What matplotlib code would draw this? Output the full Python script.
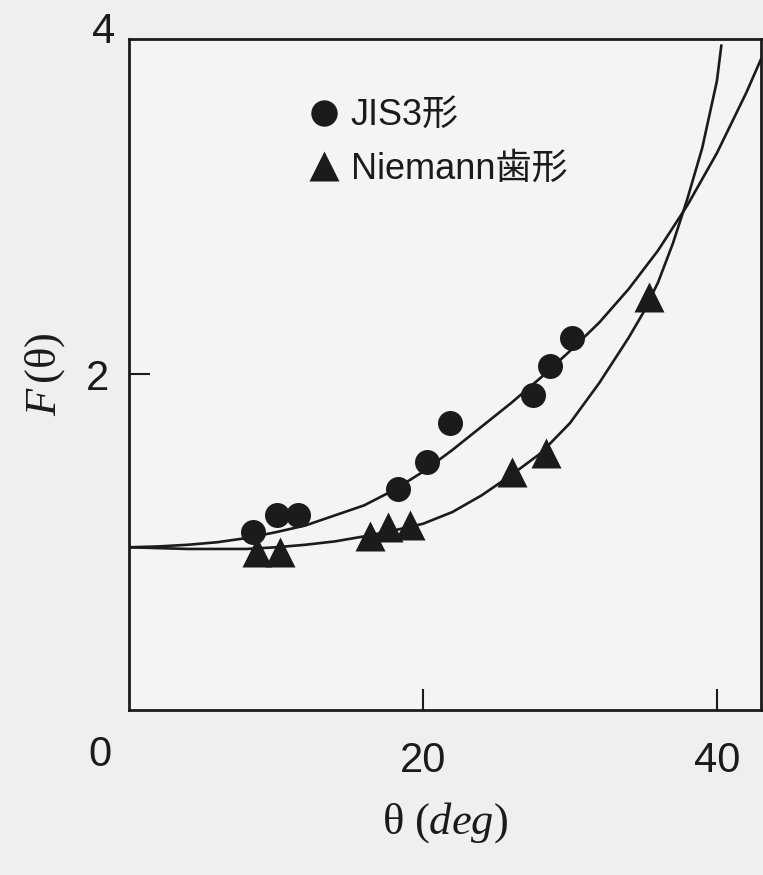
import matplotlib.pyplot as plt
import numpy as np

plt.rcParams['font.family'] = ['Liberation Sans', 'Noto Sans CJK JP', 'DejaVu Sans']
plt.rcParams['mathtext.fontset'] = 'custom'
plt.rcParams['mathtext.rm'] = 'Liberation Serif'
plt.rcParams['mathtext.it'] = 'Liberation Serif:italic'

# measured points
jis_theta = [8.44, 10.07, 11.5, 18.3, 20.27, 21.84, 27.48, 28.64, 30.14]
jis_F = [1.06, 1.16, 1.16, 1.32, 1.48, 1.71, 1.88, 2.05, 2.22]
nie_theta = [8.7, 10.3, 16.4, 17.6, 19.1, 26.05, 28.4, 35.4]
nie_F = [0.94, 0.94, 1.04, 1.09, 1.10, 1.42, 1.53, 2.46]

# fitted curves
jis_curve_theta = [0, 2, 4, 6, 8, 10, 12, 14, 16, 18, 20, 22, 24, 26, 28, 30,
                   32, 34, 36, 38, 40, 42, 43]
jis_curve_F = [0.97, 0.975, 0.985, 1.0, 1.025, 1.06, 1.10, 1.16, 1.22, 1.31, 1.42,
               1.55, 1.69, 1.83, 1.98, 2.14, 2.31, 2.51, 2.74, 3.01, 3.32, 3.68, 3.88]
nie_curve_theta = [0, 2, 4, 6, 8, 10, 12, 14, 16, 18, 20, 22, 24, 26, 28, 30,
                   32, 34, 35, 36, 37, 38, 39, 40, 40.3]
nie_curve_F = [0.97, 0.965, 0.96, 0.96, 0.96, 0.97, 0.985, 1.005, 1.035, 1.07, 1.11,
               1.18, 1.28, 1.40, 1.53, 1.71, 1.95, 2.22, 2.37, 2.55, 2.78, 3.05,
               3.35, 3.75, 3.96]

ink = '#1c1a1c'
fig = plt.figure(figsize=(7.63, 8.75), dpi=100, facecolor='#f0eeef')
ax = fig.add_axes([129/763, 165/875, 632/763, 671/875])
ax.set_facecolor('#f5f4f4')

ax.plot(jis_curve_theta, jis_curve_F, color=ink, lw=1.9, solid_joinstyle='round')
ax.plot(nie_curve_theta, nie_curve_F, color=ink, lw=1.9, solid_joinstyle='round')
ax.plot(jis_theta, jis_F, 'o', color=ink, ms=18, mec='none', clip_on=False)
ax.plot(nie_theta, nie_F, '^', color=ink, ms=22, mec='none', clip_on=False)

ax.set_xlim(0, 43)
ax.set_ylim(0, 4)
for s in ax.spines.values():
    s.set_linewidth(2)
    s.set_color(ink)

ax.set_xticks([20, 40])
ax.set_yticks([2])
ax.tick_params(direction='in', length=15, width=1.5, color=ink, labelsize=30,
               labelcolor=ink)
ax.tick_params(axis='x', pad=22)
ax.tick_params(axis='y', pad=14)

ax.text(-2.0, -0.27, '0', fontsize=30, color=ink, ha='center', va='center')
ax.text(-1.7, 4.04, '4', fontsize=30, color=ink, ha='center', va='center')

ax.set_xlabel(r'$\mathrm{\theta}\ (\mathit{deg})$', fontsize=32, color=ink, labelpad=14)
ax.set_ylabel(r'$\mathit{F}\,(\mathrm{\theta})$', fontsize=32, color=ink, labelpad=14)

# legend
ax.plot([13.3], [3.56], 'o', color=ink, ms=19, mec='none')
ax.plot([13.3], [3.24], '^', color=ink, ms=22, mec='none')
ax.text(15.1, 3.545, 'JIS3形', fontsize=26, color=ink, va='center')
ax.text(15.1, 3.225, 'Niemann歯形', fontsize=26, color=ink, va='center')

fig.savefig('out.png', dpi=100, facecolor=fig.get_facecolor())
